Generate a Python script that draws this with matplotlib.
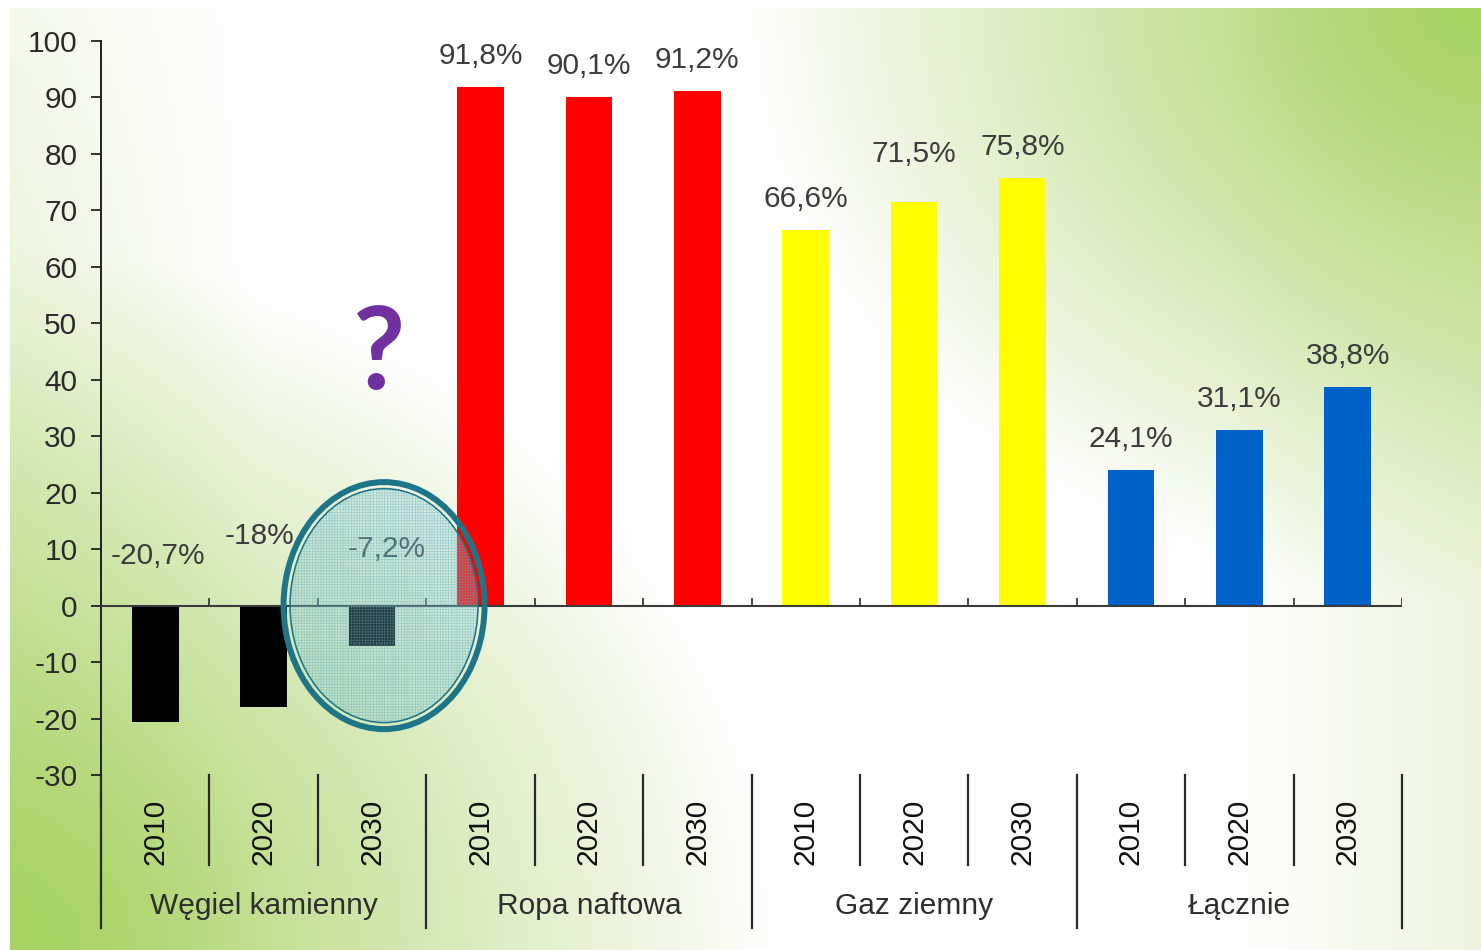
import numpy as np
import matplotlib
matplotlib.use('Agg')
import matplotlib.pyplot as plt
from matplotlib.patches import Ellipse
import matplotlib.transforms as mtransforms

# ---------------- data ----------------
groups = ['Węgiel kamienny', 'Ropa naftowa', 'Gaz ziemny', 'Łącznie']
years = ['2010', '2020', '2030']
coal = [-20.7, -18.0, -7.2]
oil = [91.8, 90.1, 91.2]
gas = [66.6, 71.5, 75.8]
total = [24.1, 31.1, 38.8]
value_labels = ['-20,7%', '-18%', '-7,2%',
                '91,8%', '90,1%', '91,2%',
                '66,6%', '71,5%', '75,8%',
                '24,1%', '31,1%', '38,8%']
yticks = list(range(-30, 101, 10))

# ---------------- style ----------------
group_colors = ['#000000', '#FF0000', '#FFFF00', '#0062C8']
# label offsets (px) relative to bar top / zero line
label_offsets = [(3, 50), (-4, 70), (15, 57),
                 (0, 31), (0, 31), (0, 31),
                 (0, 31), (0, 48), (0, 31),
                 (0, 31), (0, 31), (0, 31)]
FONT = 'Liberation Sans'
FS = 21.5
W, H = 1481, 950
DPI = 100
PT = 72.0 / DPI

plt.rcParams['font.family'] = [FONT, 'DejaVu Sans']

fig = plt.figure(figsize=(W / DPI, H / DPI), dpi=DPI)

# ---------------- background gradient ----------------
yy, xx = np.mgrid[0:H, 0:W].astype(float)
w1 = np.clip(1 - np.sqrt(((W - xx) / 740.0) ** 2 + (yy / 600.0) ** 2), 0, 1)
w2 = np.clip(1 - np.sqrt((xx / 780.0) ** 2 + ((H - yy) / 700.0) ** 2), 0, 1)
w3 = np.clip(1 - xx / 260.0, 0, 1) * np.clip(0.12 + yy / H * 0.3, 0, 1)
w4 = np.clip(1 - (W - xx) / 260.0, 0, 1) * 0.2
w = 1 - (1 - w1) * (1 - w2) * (1 - w3) * (1 - w4)
w = np.clip(w * 1.05, 0, 1)
green = np.array([168, 210, 100]) / 255.0
img = (1 - w[..., None]) * 1.0 + w[..., None] * green
img[:8, :, :] = 1.0
img[:, :10, :] = 1.0
bg = fig.add_axes([0, 0, 1, 1], zorder=-10)
bg.imshow(img, extent=[0, W, H, 0], aspect='auto', interpolation='bilinear')
bg.set_axis_off()

# ---------------- main axes ----------------
ax = fig.add_axes([101 / W, 1 - 775 / H, 1301 / W, 734 / H])
ax.set_facecolor('none')

values = coal + oil + gas + total
series = [coal, oil, gas, total]
colors = [group_colors[g] for g, s in enumerate(series) for _ in s]
x = np.arange(len(values))
ax.bar(x, values, width=0.43, color=colors, zorder=3)

ax.set_xlim(-0.5, len(values) - 0.5)
ax.set_ylim(-30, 100)
ax.set_yticks(yticks)
ax.set_yticklabels([str(t) for t in yticks])
ax.tick_params(axis='y', direction='out', length=7, width=1.3, color='#222222',
               labelsize=FS, labelcolor='#2a2a2a', pad=10)
ax.set_xticks([])
for s in ['top', 'right', 'bottom']:
    ax.spines[s].set_visible(False)
ax.spines['left'].set_color('#222222')
ax.spines['left'].set_linewidth(1.4)

# zero line and small ticks
ax.axhline(0, color='#3a3a3a', lw=1.5, zorder=4)
for b in np.arange(0.5, len(values), 1.0):
    ax.plot([b, b], [0, 1.1], color='#3a3a3a', lw=1.3, zorder=4)

# category separators below the plot
trans = mtransforms.blended_transform_factory(ax.transData, ax.transAxes)
n_per = len(years)
for b in np.arange(-0.5, len(values), 1.0):
    k = int(round(b + 0.5))
    is_group = (k % n_per == 0)
    y1 = -153 / 734 if is_group else -90 / 734
    ax.plot([b, b], [0, y1], transform=trans, clip_on=False,
            color='#2a2a2a', lw=1.6)

for i in range(len(values)):
    ax.text(i, -57 / 734, years[i % n_per], transform=trans, rotation=90,
            ha='center', va='center', fontsize=FS, color='#111111')
for g, name in enumerate(groups):
    ax.text(g * n_per + 1, -131 / 734, name, transform=trans,
            ha='center', va='center', fontsize=FS, color='#2e2e2e')

# value labels
for i, (v, lab) in enumerate(zip(values, value_labels)):
    dx, dy = label_offsets[i]
    ax.annotate(lab, xy=(i, max(v, 0)), xytext=(dx * PT, dy * PT),
                textcoords='offset points', ha='center', va='center',
                fontsize=FS, color='#3c3c3c', zorder=5)

# ---------------- annotation: ellipse + question mark ----------------
xu = 1301 / 12.0      # px per x unit
yu = 734 / 130.0      # px per y unit
cx = 2 + 12 / xu
cy = 0
ax.add_patch(Ellipse((cx, cy), 188 / xu, 234 / yu, facecolor=(0.55, 0.80, 0.85),
                     alpha=0.28, edgecolor='none', zorder=6, clip_on=False))
plt.rcParams['hatch.linewidth'] = 0.5
ax.add_patch(Ellipse((cx, cy), 188 / xu, 234 / yu, facecolor='none',
                     edgecolor=(0.35, 0.68, 0.75, 0.45), hatch='++++++', lw=0,
                     zorder=6, clip_on=False))
ax.add_patch(Ellipse((cx, cy), 201 / xu, 247 / yu, facecolor='none',
                     edgecolor='#1E7588', lw=6 * PT, zorder=7, clip_on=False))
ax.add_patch(Ellipse((cx, cy), 188 / xu, 234 / yu, facecolor='none',
                     edgecolor='#1E7588', lw=1.6 * PT, zorder=7, clip_on=False))

ax.text(2 + 7 / xu, 250 / yu, '?', ha='center', va='center',
        fontsize=82, fontweight='bold', family=['Lato', 'DejaVu Sans'],
        color='#7030A0', zorder=5)

fig.savefig('out.png', dpi=DPI)
